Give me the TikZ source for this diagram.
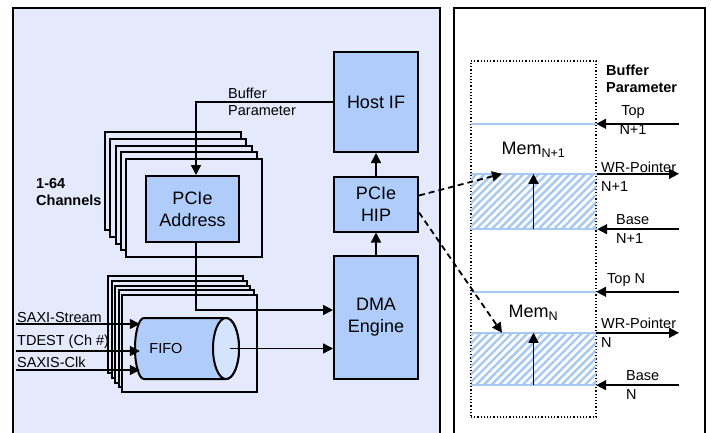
\documentclass[tikz,border=0pt]{standalone}
\usepackage{fontspec}
\setmainfont{Liberation Sans}
\usetikzlibrary{positioning,arrows.meta,patterns.meta}

\definecolor{panelbg}{RGB}{228,233,252}
\definecolor{boxblue}{RGB}{175,204,250}
\definecolor{endblue}{RGB}{212,228,252}
\definecolor{memblue}{RGB}{166,200,242}

\begin{document}
\begin{tikzpicture}[x=1pt,y=-1pt]
		\tikzset{
  block/.style={
         rectangle,
         draw=black, line width=2pt,
         fill=boxblue,
         inner sep=0,
         align=center,
         font=\fontsize{18}{22}\selectfont,
         },
  chanframe/.style={
         rectangle,
         draw=black, line width=2pt,
         fill=panelbg,
         minimum width=136pt, minimum height=98pt,
         },
  conn/.style={line width=1.6pt, -{Triangle[length=10pt,width=10pt]}},
  dconn/.style={conn, line width=1.8pt, dash pattern=on 6pt off 4pt},
  lbl/.style={inner sep=0, align=left, font=\fontsize{14.5}{19}\selectfont},
  blbl/.style={inner sep=0, align=left, font=\fontsize{14.5}{17}\selectfont\bfseries},
  membusy/.style={
         rectangle, inner sep=0,
         minimum width=125pt,
         pattern={Lines[angle=45,distance=5.5pt,line width=2.4pt]},
         pattern color=memblue,
         },
  memfree/.style={
         rectangle, inner sep=0,
         minimum width=125pt,
         font=\fontsize{18}{22}\selectfont,
         },
  memline/.style={draw=memblue, line width=2pt},
}

    \useasboundingbox (0,0) rectangle (711,433);

    % the two panels
    \draw[line width=2pt, fill=panelbg] (13,8) rectangle (440,438);
    \draw[line width=2pt, fill=white] (454,8) rectangle (705,438);

    % channel stacks
    \foreach \i in {4,3,2,1}
      \node[chanframe] at (194-5.25*\i,208-6.75*\i) {};
    \node[chanframe] (chan) at (194,208) {};

    \foreach \i in {4,3,2,1}
      \node[chanframe, minimum width=135pt, minimum height=97pt]
        at (189.5-3.5*\i,343.5-4.75*\i) {};
    \node[chanframe, minimum width=135pt, minimum height=97pt] (fifoframe)
      at (189.5,343.5) {};

    \node[block, minimum width=84pt, minimum height=100pt] (hostif)
      at (376,102) {Host IF};

    \node[block,
      minimum width=84pt, minimum height=55pt,
      below=22.5pt of hostif] (hip)
    {PCIe\\HIP};

    \node[block,
      minimum width=84pt, minimum height=123pt,
      below=22.5pt of hip] (dma)
    {DMA\\Engine};

    \node[block, minimum width=93pt, minimum height=66pt] (addr)
      at (192.5,209) {PCIe\\Address};

    % fifo drum
    \node[inner sep=0, minimum width=104pt, minimum height=61pt] (fifo) at (187,348.5) {};
    \draw[fill=boxblue, line width=2pt]
      (226,318) -- (144,318)
      arc[start angle=90, end angle=270, x radius=9pt, y radius=30.5pt]
      -- (226,379)
      arc[start angle=270, end angle=450, x radius=13pt, y radius=30.5pt]
      -- cycle;
    \draw[fill=endblue, line width=2pt] (226,348.5) ellipse [x radius=13pt, y radius=30.5pt];
    \node[lbl, font=\fontsize{14.5}{17}\selectfont] (fifolbl) at (166,348.5) {FIFO};

    \node[blbl, anchor=north west] (channels) at (36,178.6) {1-64\\Channels};

    % channel side connections
    \draw[conn] (hip) -- (hostif);
    \draw[conn] (dma) -- (hip);
    \draw[conn] (hostif.west) -| ([xshift=3.5pt]addr.north);
    \node[lbl, anchor=north west, font=\fontsize{14.5}{16.5}\selectfont] (bufparam)
      at (228,88) {Buffer\\Parameter};
    \draw[conn] ([xshift=3.5pt]addr.south) |- ([yshift=7.5pt]dma.west);

    \coordinate (fifoout) at ([xshift=-9pt]fifo.east);
    \draw[conn] (fifoout) -- (fifoout -| dma.west);

    \coordinate (saxi) at (16,324);
    \coordinate (tdest) at (16,351);
    \coordinate (clk) at (16,370);
    \draw[conn] (saxi) -- ([xshift=5pt]fifo.west |- saxi);
    \draw[conn] (tdest) -- ([xshift=5pt]fifo.west |- tdest);
    \draw[conn] (clk) -- ([xshift=5pt]fifo.west |- clk);
    \node[lbl, anchor=base west] (saxilbl) at (17,322) {SAXI-Stream};
    \node[lbl, anchor=base west] (tdestlbl) at (17,345.7) {TDEST (Ch \#)};
    \node[lbl, anchor=base west] (clklbl) at (17,367) {SAXIS-Clk};

    % host memory
    \node[draw, dotted, line width=1.2pt, minimum width=125pt, minimum height=356pt,
      inner sep=0] (hostmem) at (533.5,239) {};

    \node[memfree, minimum height=51pt] (memA) at (533.5,149.5) {Mem\textsubscript{N+1}};
    \node[membusy, minimum height=53pt] (busyA) at (533.5,201.5) {};
    \node[memfree, minimum height=41pt] (memB) at (533.5,312.5) {Mem\textsubscript{N}};
    \node[membusy, minimum height=52pt] (busyB) at (533.5,359) {};

    \draw[memline] (memA.north west) -- (memA.north east);
    \draw[memline] (busyA.north west) -- (busyA.north east);
    \draw[memline] (busyA.south west) -- (busyA.south east);
    \draw[memline] (memB.north west) -- (memB.north east);
    \draw[memline] (busyB.north west) -- (busyB.north east);
    \draw[memline] (busyB.south west) -- (busyB.south east);

    \draw[conn] (busyA.south) -- (busyA.north);
    \draw[conn] (busyB.south) -- (busyB.north);

    \draw[dconn] ([yshift=8.5pt]hip.east) -- ([xshift=-31.5pt]busyA.north);
    \draw[dconn] ([yshift=-8.5pt]hip.east) -- ([xshift=-31.5pt]busyB.north);

    % buffer parameter pointers
    \coordinate (ptr) at (679,0);
    \draw[conn] (memA.north east -| ptr) -- (memA.north east);
    \draw[conn] (busyA.north east) -- (busyA.north east -| ptr);
    \draw[conn] (busyA.south east -| ptr) -- (busyA.south east);
    \draw[conn] (memB.north east -| ptr) -- (memB.north east);
    \draw[conn] (busyB.north east) -- (busyB.north east -| ptr);
    \draw[conn] (busyB.south east -| ptr) -- (busyB.south east);

    \node[blbl, anchor=north west] (bufhead) at (606,64.5) {Buffer\\Parameter};
    \node[lbl, anchor=north, align=center] (topA) at (633,105.6) {Top\\N+1};
    \node[lbl, anchor=north west] (wrA) at (601,161.5) {WR-Pointer\\N+1};
    \node[lbl, anchor=north west] (baseA) at (616,214.5) {Base\\N+1};
    \node[lbl, anchor=base west] (topB) at (607,283) {Top N};
    \node[lbl, anchor=north west] (wrB) at (601,317.5) {WR-Pointer\\N};
    \node[lbl, anchor=north west] (baseB) at (626,370.5) {Base\\N};

	\end{tikzpicture}
\end{document}
